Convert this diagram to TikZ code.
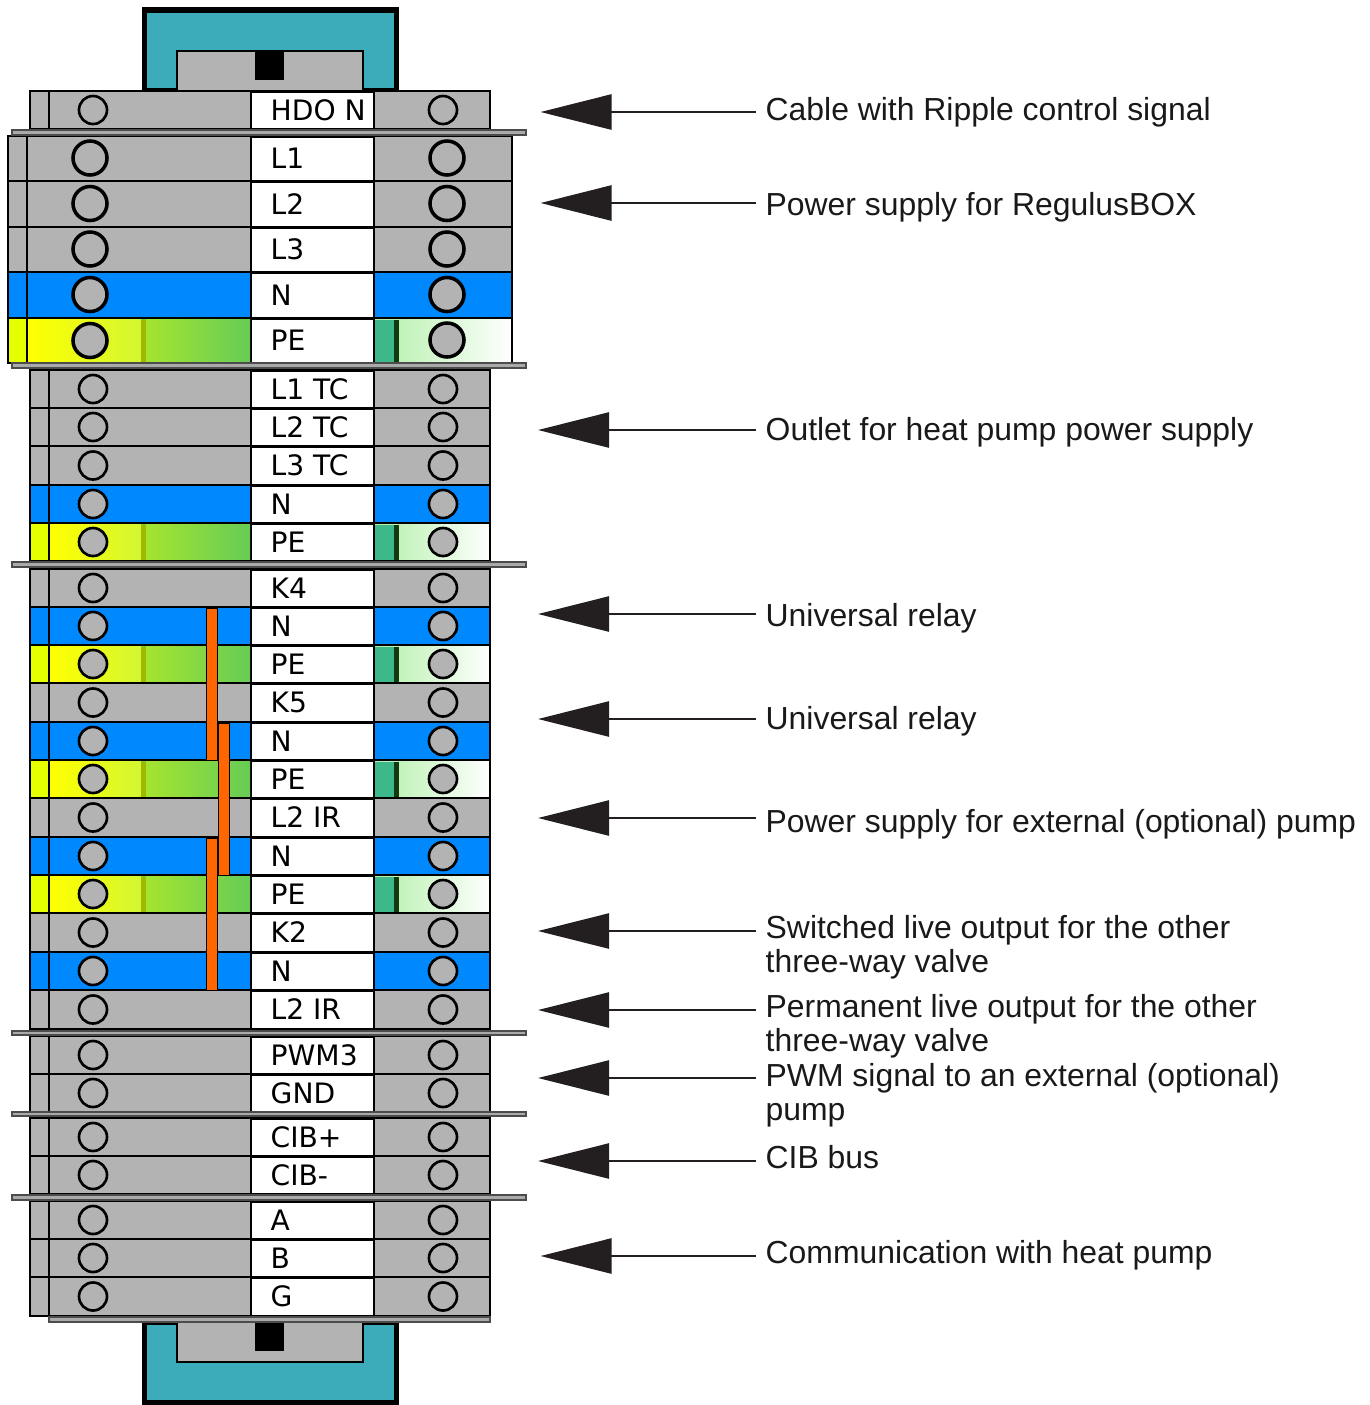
\documentclass[tikz,border=0pt]{standalone}
\usepackage{fontspec}
\setmainfont{Liberation Sans}
\newfontfamily\termfont{DejaVu Sans}
\usetikzlibrary{arrows.meta}
\definecolor{railteal}{RGB}{61, 172, 186}
\definecolor{termgray}{RGB}{179, 179, 179}
\definecolor{termblue}{RGB}{0, 136, 255}
\definecolor{strapred}{RGB}{255, 102, 0}
\definecolor{peyellow}{RGB}{230, 255, 0}
\definecolor{pegreen}{RGB}{102, 204, 85}
\definecolor{pepale}{RGB}{210, 247, 50}
\definecolor{pelime}{RGB}{165, 228, 48}
\definecolor{pemint}{RGB}{178, 240, 168}
\definecolor{peteal}{RGB}{60, 184, 138}
\definecolor{pedark}{RGB}{18, 58, 16}
\definecolor{peolive}{RGB}{160, 184, 0}
\definecolor{barshade}{RGB}{170, 170, 170}
\definecolor{tipblack}{RGB}{35, 31, 32}
\tikzset{
    rowline/.style={draw=black, line width=0.7pt},
    railbody/.style={draw=black, line width=1.5pt, fill=railteal},
    railinsert/.style={draw=black, line width=0.6pt, fill=termgray},
    tabgray/.style={rowline, fill=termgray},
    tabblue/.style={rowline, fill=termblue},
    tabpe/.style={rowline, fill=peyellow},
    bodygray/.style={rowline, fill=termgray},
    bodyblue/.style={rowline, fill=termblue},
    bodype/.style={rowline, fill=pegreen},
    rightgray/.style={rowline, fill=termgray},
    rightblue/.style={rowline, fill=termblue},
    rightpe/.style={rowline, left color=pemint, right color=white},
    holesmall/.style={circle, draw=black, line width=0.75pt, fill=termgray, minimum size=0.28cm, inner sep=0pt},
    holebig/.style={circle, draw=black, line width=1pt, fill=termgray, minimum size=0.34cm, inner sep=0pt},
    termtext/.style={anchor=base west, inner sep=0pt, font=\termfont\fontsize{8}{9.6}\selectfont},
    sepbar/.style={draw=black!70, line width=0.3pt, fill=barshade},
    strap/.style={draw=black, line width=0.25pt, fill=strapred},
    calltext/.style={anchor=west, align=left, inner ysep=0pt, inner xsep=0.09cm, font=\fontsize{9.07}{9.75}\selectfont, text=black!90},
    callout/.style={draw=tipblack, line width=0.7pt, -{Triangle[length=0.71cm, width=0.35cm, fill=tipblack]}}
}
\begin{document}
\begin{tikzpicture}[x=0.01cm, y=-0.01cm]
    \useasboundingbox (0,0) rectangle (1370,1405);

    % Rail at top and bottom
    \draw[railbody] (144.5,10) rectangle (396.5,91);
    \draw[railinsert] (177,51) rectangle (363,91);
    \fill[black] (255,51) rectangle (284,80);
    \draw[railbody] (144.5,1322) rectangle (396.5,1402.5);
    \draw[railinsert] (177,1322) rectangle (363,1362);
    \fill[black] (255,1323) rectangle (284,1351);

    % One terminal row, uses the loop variables
    \def\drawrow{
        \draw[tab\kind] (\xtab,\ytop) rectangle (\xbody,\ybot);
        \draw[body\kind] (\xbody,\ytop) rectangle (251,\ybot);
        \draw[right\kind] (374,\ytop) rectangle (\xend,\ybot);
        \draw[rowline, line width=0.85pt, fill=white] (251,\ytop) rectangle (374,\ybot);
        \node[termtext] (\rowname) at (270,{(\ytop+\ybot)/2+10}) {\txt};
    }

    % Large terminals
    \def\xtab{8} \def\xbody{27} \def\xend{512}
    \foreach \rowname/\ytop/\ybot/\kind/\txt in {
        lone/136/181/gray/L1, ltwo/181/227/gray/L2, lthree/227/272/gray/L3,
        nmain/272/318/blue/N, pemain/318/363/pe/PE} {
        \drawrow
        \node[holebig] (\rowname left) at (90,{(\ytop+\ybot)/2-0.5}) {};
        \node[holebig] (\rowname right) at (447,{(\ytop+\ybot)/2-0.5}) {};
    }

    % Small terminals
    \def\xtab{30} \def\xbody{49} \def\xend{490}
    \foreach \rowname/\ytop/\ybot/\kind/\txt in {
        hdo/91/129/gray/HDO N,
        tcone/370/408/gray/L1 TC, tctwo/408/446/gray/L2 TC, tcthree/446/485/gray/L3 TC,
        ntc/485/523/blue/N, petc/523/561/pe/PE,
        kfour/569/607/gray/K4, nfour/607/645/blue/N, pefour/645/683/pe/PE,
        kfive/683/722/gray/K5, nfive/722/760/blue/N, pefive/760/798/pe/PE,
        irone/798/837/gray/L2 IR, nir/837/875/blue/N, peir/875/913/pe/PE,
        ktwo/913/952/gray/K2, ntwo/952/990/blue/N, irtwo/990/1029/gray/L2 IR,
        pwm/1036/1074/gray/PWM3, gnd/1074/1112/gray/GND,
        cibp/1118/1156/gray/CIB+, cibm/1156/1194/gray/CIB-,
        busa/1201/1239/gray/A, busb/1239/1277/gray/B, busg/1277/1316/gray/G} {
        \drawrow
        \node[holesmall] (\rowname left) at (93,{(\ytop+\ybot)/2}) {};
        \node[holesmall] (\rowname right) at (443,{(\ytop+\ybot)/2}) {};
    }

    % Gradients and stripes on the earth terminals, holes go back on top
    \foreach \xbody/\xhole/\ytop/\ybot/\holekind in {27/90/318/363/holebig, 49/93/523/561/holesmall,
        49/93/645/683/holesmall, 49/93/760/798/holesmall, 49/93/875/913/holesmall} {
        \fill[left color=yellow, right color=pepale] (\xbody+1,\ytop+1.5) rectangle (141,\ybot-1.5);
        \fill[left color=pelime, right color=pegreen] (146,\ytop+1.5) rectangle (250,\ybot-1.5);
        \fill[peolive] (141,\ytop+1.5) rectangle (146,\ybot-1.5);
        \fill[peteal] (375,\ytop+1.5) rectangle (394,\ybot-1.5);
        \fill[pedark] (394,\ytop+1.5) rectangle (399,\ybot-1.5);
        \node[\holekind] at (\xhole,{(\ytop+\ybot)/2}) {};
    }

    % Separator bars
    \foreach \ytop/\ybot in {130/135, 363/368, 562/567, 1031/1035, 1112/1116, 1195/1200} {
        \draw[sepbar] (12,\ytop) rectangle (526,\ybot);
    }
    \draw[sepbar] (49,1317) rectangle (490,1322);

    % Jumpers
    \draw[strap] (206,608) rectangle (217,760);
    \draw[strap] (218,723) rectangle (229,875);
    \draw[strap] (206,838) rectangle (217,990);

    % Labels and arrows
    \foreach \callname/\ytext/\yline/\xtip/\lbl in {
        cable/112/112/540.5/{Cable with Ripple control signal},
        supply/207/203/540.5/{Power supply for RegulusBOX},
        outlet/432/430/538/{Outlet for heat pump power supply},
        relayone/618/614/538/{Universal relay},
        relaytwo/721/719/538/{Universal relay},
        extpump/824/818/538/{Power supply for external (optional) pump},
        switched/947/931/538/{Switched live output for the other\\three-way valve},
        permanent/1026/1010/538/{Permanent live output for the other\\three-way valve},
        pwmsig/1095/1078/538/{PWM signal to an external (optional)\\pump},
        cibbus/1157/1161/538/{CIB bus},
        commun/1255/1256/540.5/{Communication with heat pump}} {
        \node[calltext] (\callname) at (756,\ytext) {\lbl};
        \coordinate (\callname tip) at (\xtip,\yline);
        \draw[callout] (\callname.west |- \callname tip) -- (\callname tip);
    }
\end{tikzpicture}
\end{document}
